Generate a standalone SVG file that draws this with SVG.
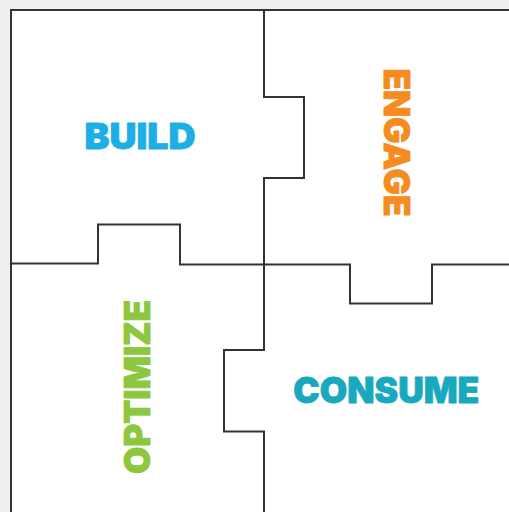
<svg xmlns="http://www.w3.org/2000/svg" width="509" height="512" viewBox="0 0 509 512">
<style>
.ln{fill:none;stroke:#333333;stroke-width:2;stroke-linejoin:miter}
.lb{font-family:Inter,"Liberation Sans",sans-serif;font-weight:900;font-size:35px;text-anchor:middle;stroke-width:0.8;stroke-linejoin:round}
</style>
<rect x="0" y="0" width="509" height="512" fill="#eef0ef"/>
<rect x="11" y="10" width="498" height="502" fill="#ffffff"/>
<g id="connectors">
<path class="ln" d="M11,512 V10 H509"/>
<path class="ln" d="M11,263.5 H98 V224.5 H180 V264.5 H264"/>
<path class="ln" d="M264,10 V97 H304 V178 H264 V264"/>
<path class="ln" d="M264,264.5 H350 V303.5 H432 V264.5 H509"/>
<path class="ln" d="M264,264 V350 H224 V431.5 H264 V512"/>
</g>
<g id="build"><text class="lb" x="140" y="149" fill="#1eaee6" stroke="#1eaee6" textLength="111" lengthAdjust="spacingAndGlyphs">BUILD</text></g>
<g id="engage"><text class="lb" transform="translate(383.5,142.5) rotate(90)" x="0" y="0" fill="#f68b1f" stroke="#f68b1f" textLength="148" lengthAdjust="spacingAndGlyphs">ENGAGE</text></g>
<g id="optimize"><text class="lb" transform="translate(150,387) rotate(-90)" x="0" y="0" fill="#8dc63f" stroke="#8dc63f" textLength="174" lengthAdjust="spacingAndGlyphs">OPTIMIZE</text></g>
<g id="consume"><text class="lb" x="386.3" y="403" fill="#19a9be" stroke="#19a9be" textLength="186" lengthAdjust="spacingAndGlyphs">CONSUME</text></g>
</svg>
